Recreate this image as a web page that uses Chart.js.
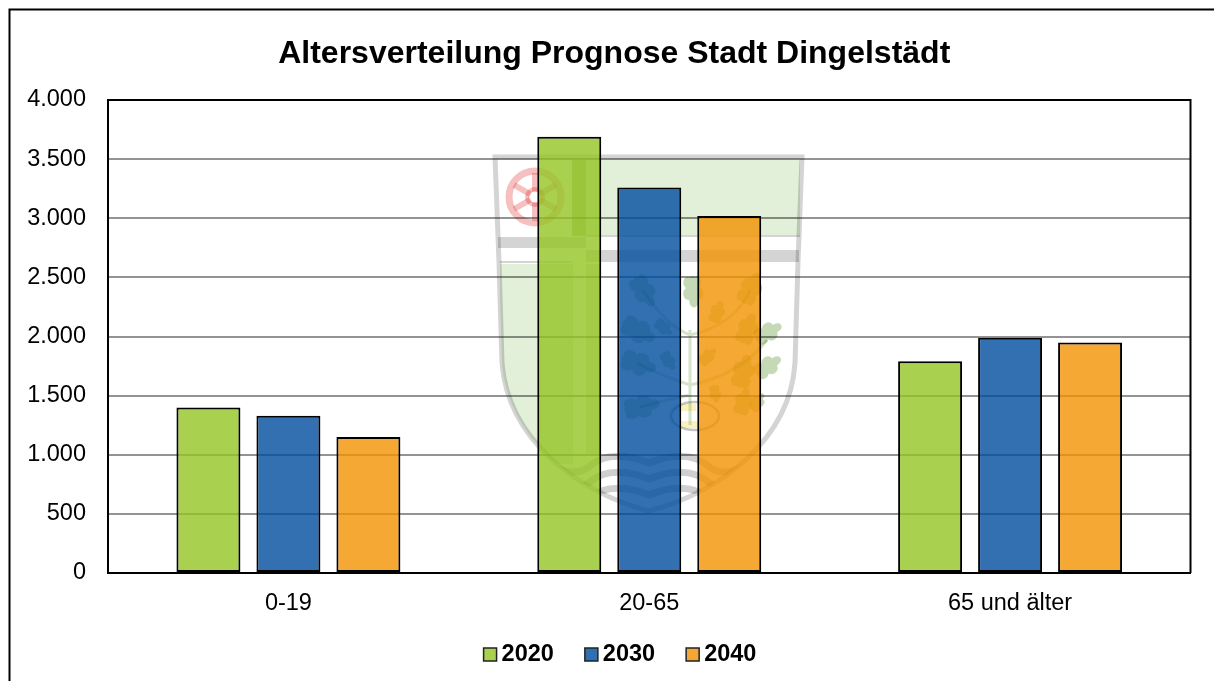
<!DOCTYPE html>
<html><head><meta charset="utf-8">
<style>html,body{margin:0;padding:0;background:#fff}canvas{display:block}</style>
<script src="https://cdn.jsdelivr.net/npm/chart.js@4"></script>
</head><body><canvas id="c" width="1214" height="681"></canvas>
<script>
const categories=['0-19','20-65','65 und älter'];
const values2020=[1400,3690,1790];
const values2030=[1330,3260,1990];
const values2040=[1150,3020,1950];
const seriesNames=['2020','2030','2040'];
const titleText='Altersverteilung Prognose Stadt Dingelstädt';
const yTicks=[0,500,1000,1500,2000,2500,3000,3500,4000];
const FONT='"Liberation Sans",Arial,sans-serif';

function shieldPath(x){
  x.beginPath();x.moveTo(495,157);x.lineTo(802,157);x.lineTo(798,262);x.lineTo(795,363);
  x.bezierCurveTo(790,440,720,492,649,511);x.bezierCurveTo(578,492,508,440,502,363);x.lineTo(499,262);x.closePath();
}
function leaf(x,cx,cy,r,a){x.save();x.translate(cx,cy);x.rotate(a);x.beginPath();
  [[0,0,r,r*.5],[-r*.55,-r*.35,r*.42,r*.3],[-r*.55,r*.35,r*.42,r*.3],[r*.25,-r*.42,r*.42,r*.3],[r*.25,r*.42,r*.42,r*.3],[r*.85,0,r*.4,r*.32]].forEach(e=>{x.moveTo(e[0]+e[2],e[1]);x.ellipse(e[0],e[1],e[2],e[3],0,0,7);});
  x.fill();x.restore();}
const watermark={id:'watermark',beforeDatasetsDraw(c){
  const x=c.ctx;x.save();x.globalCompositeOperation='multiply';
  const green='#e2efd9',grey='#d4d4d4';
  x.fillStyle=green;
  x.fillRect(572,160,228,76);
  x.fillStyle='#cfdcc2';x.fillRect(572,160,14,76);
  x.fillStyle=green;
  x.save();shieldPath(x);x.clip();x.fillRect(500,264,73,200);x.restore();
  x.fillStyle='#dfe3d6';x.fillRect(586,264,14,190);
  x.fillStyle=grey;
  x.fillRect(498,237,88,11);x.fillRect(586,250,213,12);
  x.fillRect(586,235.5,214,1.5);x.fillRect(500,261,72,2);
  shieldPath(x);x.strokeStyle=grey;x.lineWidth=5;x.stroke();
  // wheel
  x.strokeStyle='#f6c0c0';x.lineWidth=7;
  x.beginPath();x.arc(535,197,26,0,7);x.stroke();
  x.lineWidth=6;for(let i=0;i<6;i++){const a=i*Math.PI/3+Math.PI/6;x.beginPath();x.moveTo(535+5*Math.cos(a),197+5*Math.sin(a));x.lineTo(535+24*Math.cos(a),197+24*Math.sin(a));x.stroke();}
  x.lineWidth=4;x.beginPath();x.arc(535,197,8,0,7);x.stroke();
  // tree
  x.strokeStyle='#d5e3c9';x.lineWidth=3;
  x.beginPath();x.moveTo(690,425);x.lineTo(690,330);
  x.moveTo(690,335);x.quadraticCurveTo(665,325,643,290);
  x.moveTo(690,335);x.quadraticCurveTo(735,325,750,290);
  x.moveTo(690,385);x.quadraticCurveTo(660,375,637,363);
  x.moveTo(690,385);x.quadraticCurveTo(740,375,767,340);
  x.moveTo(690,395);x.quadraticCurveTo(665,400,640,407);x.stroke();
  x.fillStyle='#c6d9b6';
  [[643,290,15,1],[637,330,16,.5],[637,363,16,.3],[640,407,16,-.2],[663,327,9,.7],[668,360,9,1],[693,290,14,1.5],[750,290,15,-1.1],[767,333,13,-.5],[767,367,13,-.6],[747,330,14,-1.2],[743,373,15,-1.3],[743,403,12,-1.3],[757,403,9,-1],[717,313,10,-1.2],[707,357,9,-.7],[715,393,8,1.4]].forEach(l=>leaf(x,l[0],l[1],l[2],l[3]));
  x.fillStyle='#fbf1c0';x.fillRect(678,404,18,7);x.fillRect(680,421,18,7);
  x.strokeStyle='#c4c4c4';x.lineWidth=2.5;x.beginPath();x.ellipse(695,416,24,14,0,0,7);x.stroke();
  // waves
  x.save();shieldPath(x);x.clip();
  x.strokeStyle='#cfcfcf';x.lineWidth=7;
  [0,16,32].forEach(d=>{const y=d;x.beginPath();
    x.moveTo(540,461+y);x.bezierCurveTo(560,470+y,575,478+y,590,466+y);x.bezierCurveTo(605,452+y,630,455+y,649,463+y);
    x.bezierCurveTo(668,455+y,693,452+y,708,466+y);x.bezierCurveTo(723,478+y,738,470+y,758,461+y);x.stroke();});
  x.restore();
  x.restore();
}};
const frame={id:'frame',
 afterLayout(c){if(c.titleBlock){c.titleBlock.left+=19;c.titleBlock.right+=19;}},
 beforeDraw(c){const x=c.ctx;x.save();x.strokeStyle='#000';x.lineWidth=2;x.beginPath();x.moveTo(9.5,681);x.lineTo(9.5,9.5);x.lineTo(1214,9.5);x.stroke();x.restore();},
 afterDraw(c){const x=c.ctx,a=c.chartArea;x.save();x.strokeStyle='#000';x.lineWidth=2;x.beginPath();x.moveTo(a.left,a.top);x.lineTo(a.right,a.top);x.lineTo(a.right,a.bottom);x.stroke();
  // legend, built from the chart's own datasets
  const swatch=['#a9d04e','#2f70b2','#f4a732'];
  const fs=23.5;x.font='bold '+fs+'px '+FONT;x.textBaseline='middle';x.textAlign='left';
  const box=13,gap=5,sep=31;
  const w=c.data.datasets.map(d=>box+gap+x.measureText(d.label).width);
  let px=620-(w.reduce((p,q)=>p+q,0)+sep*(w.length-1))/2;
  c.data.datasets.forEach((d,i)=>{x.fillStyle=swatch[i];x.strokeStyle='#222';x.lineWidth=1.5;x.fillRect(px,648,box,13);x.strokeRect(px,648,box,13);
    x.fillStyle='#000';x.fillText(d.label,px+box+gap,655);px+=w[i]+sep;});
  x.restore();}};
const mk=(l,d,col)=>({label:l,data:d,backgroundColor:col,borderColor:'#000',borderWidth:2,borderSkipped:false,barPercentage:.8,categoryPercentage:.665});
Chart.defaults.font.family=FONT;
new Chart(document.getElementById('c'),{type:'bar',
 data:{labels:categories,datasets:[mk(seriesNames[0],values2020,'rgba(148,196,34,0.8)'),mk(seriesNames[1],values2030,'rgba(0,76,159,0.8)'),mk(seriesNames[2],values2040,'rgba(242,146,0,0.8)')]},
 plugins:[frame,watermark],
 options:{responsive:false,animation:false,
  layout:{padding:{left:0,right:23.5,top:0,bottom:0}},
  plugins:{tooltip:{enabled:false},legend:{display:false},
   title:{display:true,text:titleText,color:'#000',font:{size:32,weight:'bold'},padding:{top:35,bottom:26.6}}},
  scales:{
   x:{grid:{display:false},border:{color:'#000',width:2},afterFit(s){s.height=108;},ticks:{color:'#000',font:{size:23.5},padding:8,maxRotation:0}},
   y:{min:0,max:4000,afterFit(s){s.width=108;},afterBuildTicks(s){s.ticks=yTicks.map(v=>({value:v}));},
      grid:{color:'#939393',lineWidth:2,drawTicks:false},border:{color:'#000',width:2},
      ticks:{color:'#000',font:{size:23.5},padding:22,callback:v=>v.toLocaleString('de-DE')}}
  }}});
</script></body></html>
